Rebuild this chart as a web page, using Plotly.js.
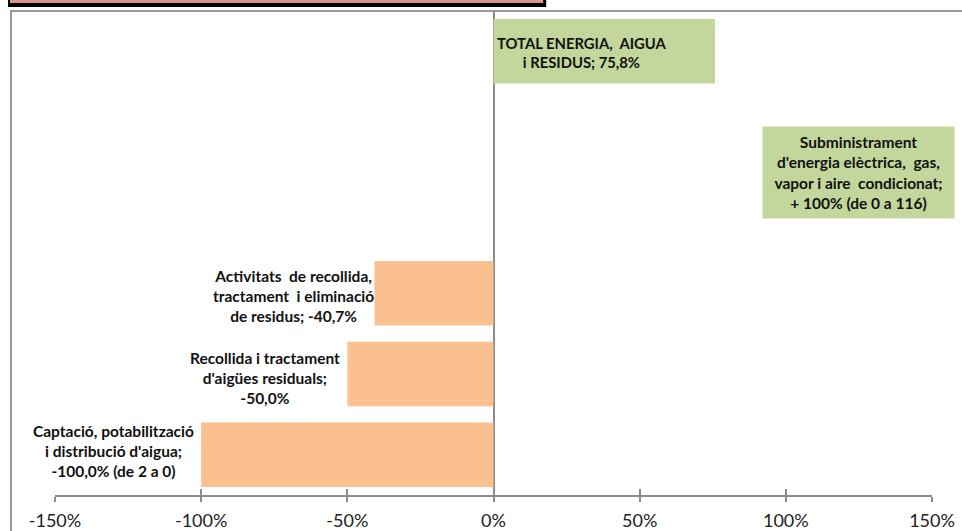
<!DOCTYPE html>
<html>
<head>
<meta charset="utf-8">
<script src="https://cdn.plot.ly/plotly-3.0.1.min.js"></script>
<style>html,body{margin:0;padding:0;background:#fff;}#chart{width:962px;height:531px;}</style>
</head>
<body>
<div id="chart"></div>
<script>
// ---- data ----
const categories = ['Captació', 'Recollida', 'Activitats', '', 'Subministrament', 'TOTAL'];
const values = [-100.0, -50.0, -40.7, null, 0, 75.8];
const barColors = ['#FAC090', '#FAC090', '#FAC090', '#FAC090', '#C3D69B', '#C3D69B'];
const labelTexts = [
  'Captació, potabilització<br>i distribució d\'aigua;<br>-100,0% (de 2 a 0)',
  'Recollida i tractament<br>d\'aigües residuals;<br>-50,0%',
  'Activitats\u00a0 de recollida,<br>tractament\u00a0 i eliminació<br>de residus; -40,7%',
  '',
  'Subministrament<br>d\'energia elèctrica,\u00a0 gas,<br>vapor i aire\u00a0 condicionat;<br>+ 100% (de 0 a 116)',
  'TOTAL ENERGIA,\u00a0 AIGUA<br>i RESIDUS; 75,8%'
];
const tickVals = [-150, -100, -50, 0, 50, 100, 150];
const tickText = ['-150%', '-100%', '-50%', '0%', '50%', '100%', '150%'];

// ---- label placement (style) ----
const labelFont = {family: 'Lato, sans-serif', size: 15.5, color: '#111'};
const totalFont = {family: 'Lato, sans-serif', size: 14.8, color: '#111'};
const annotations = [];
// negative bars: labels to the left of the bar end
[[0, -5, 4], [1, -5, -4], [2, 1, -3]].forEach(([i, xs, ys]) => {
  annotations.push({x: values[i], y: categories[i], xref: 'x', yref: 'y', text: '<b>' + labelTexts[i] + '</b>',
    showarrow: false, xanchor: 'right', yanchor: 'middle', align: 'center', xshift: xs, yshift: ys, font: labelFont});
});
// total label inside bar
annotations.push({x: values[5] * 0.4, y: categories[5], xref: 'x', yref: 'y', text: '<b>' + labelTexts[5] + '</b>',
  showarrow: false, xanchor: 'center', yanchor: 'middle', align: 'center', yshift: -1, font: totalFont});
// subministrament box label
annotations.push({x: 125, y: 3.5, xref: 'x', yref: 'y', text: '<b>' + labelTexts[4] + '</b>',
  showarrow: false, xanchor: 'center', yanchor: 'middle', align: 'center', bgcolor: '#C3D69B',
  width: 191, height: 91, borderpad: 0, font: labelFont});

const axisGray = '#8C8C8C';
const trace = {
  type: 'bar', orientation: 'h', y: categories, x: values,
  marker: {color: barColors, line: {width: 0}}, hoverinfo: 'skip'
};
const dummy = {type: 'scatter', x: [null], y: [null], xaxis: 'x2', yaxis: 'y', showlegend: false, hoverinfo: 'skip'};

const layout = {
  width: 962, height: 531,
  margin: {l: 55, r: 30.4, t: 11, b: 36, pad: 0},
  paper_bgcolor: '#fff', plot_bgcolor: '#fff',
  showlegend: false, bargap: 0.2,
  xaxis: {
    range: [-150, 150], tickvals: tickVals, ticktext: tickText,
    showgrid: false, zeroline: true, zerolinecolor: axisGray, zerolinewidth: 2,
    showline: true, linecolor: axisGray, linewidth: 2,
    ticks: 'outside', ticklen: 5, tickwidth: 2, tickcolor: axisGray,
    tickfont: {family: 'Lato, sans-serif', size: 18, color: '#222'},
    ticklabelstandoff: 3, fixedrange: true
  },
  xaxis2: {
    overlaying: 'x', anchor: 'y', side: 'bottom', range: [-150, 150], tickvals: tickVals,
    showticklabels: false, showgrid: false, zeroline: false, showline: false,
    ticks: 'inside', ticklen: 6, tickwidth: 2, tickcolor: axisGray
  },
  yaxis: {
    type: 'category', categoryorder: 'array', categoryarray: categories, range: [-0.5, 5.5],
    showticklabels: false, showgrid: false, zeroline: false, showline: false, ticks: '', fixedrange: true
  },
  annotations: annotations,
  shapes: [
    // chart frame (left + top)
    {type: 'line', xref: 'paper', yref: 'paper', x0: -0.0502, x1: -0.0502, y0: -0.2, y1: 1.0, line: {color: '#999', width: 2}, layer: 'below'},
    {type: 'line', xref: 'paper', yref: 'paper', x0: -0.0513, x1: 1.1, y0: 1.0, y1: 1.0, line: {color: '#999', width: 2}, layer: 'below'},
    // truncated title box at top-left
    {type: 'rect', xref: 'paper', yref: 'paper', x0: -0.0536, x1: 0.5601, y0: 1.0083, y1: 1.03, fillcolor: '#000', line: {width: 0}},
    {type: 'rect', xref: 'paper', yref: 'paper', x0: -0.0513, x1: 0.5567, y0: 1.0165, y1: 1.03, fillcolor: '#D99594', line: {width: 0}}
  ]
};

Plotly.newPlot('chart', [trace, dummy], layout, {displayModeBar: false, staticPlot: true});
</script>
</body>
</html>
